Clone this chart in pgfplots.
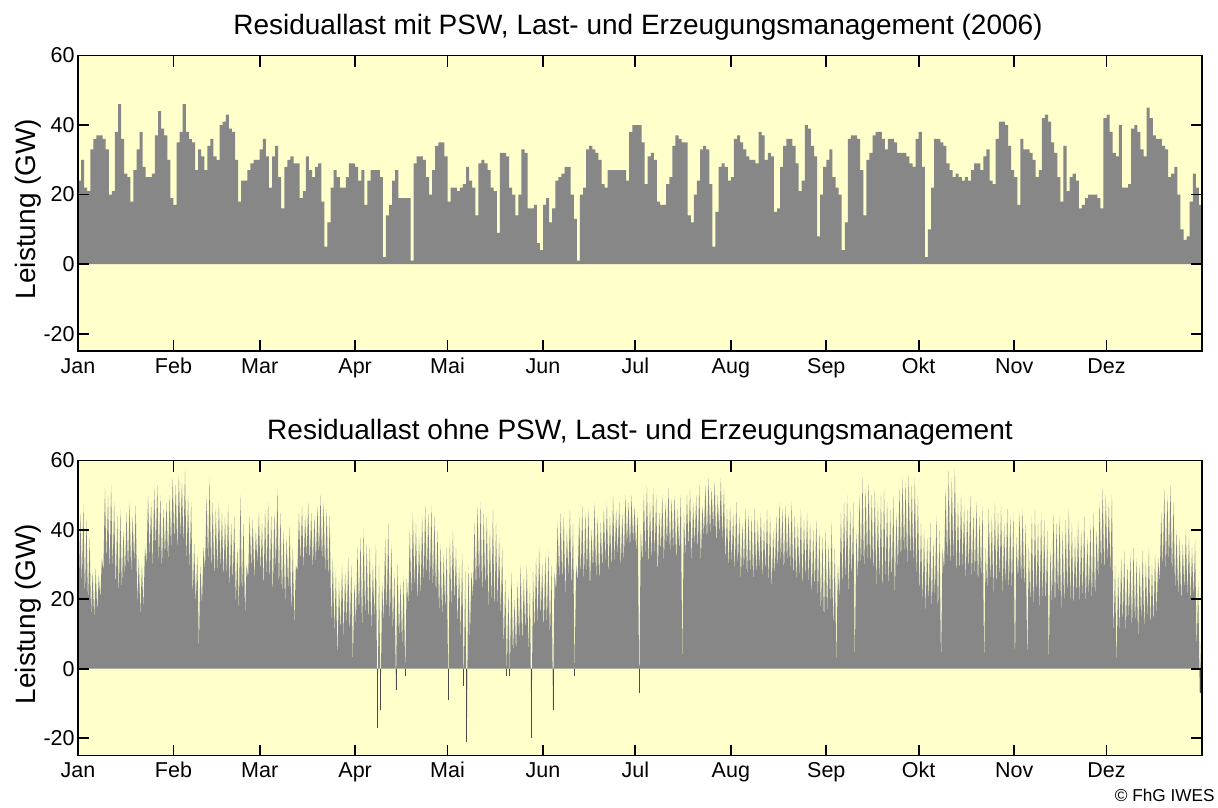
\documentclass[border=0pt]{standalone}
\usepackage{fontspec}
\setmainfont{Liberation Sans}
\usepackage{pgfplots}
\pgfplotsset{compat=1.18}
\usepackage{pgfplotstable}
\definecolor{bgy}{RGB}{255,255,204}
\definecolor{fillg}{RGB}{135,135,135}

% Residuallast mit PSW (daily values, GW)
\pgfplotstableread[row sep=\\]{y\\
24\\30\\22\\21\\33\\36\\37\\37\\36\\33\\
20\\21\\38\\46\\36\\26\\25\\18\\27\\33\\
38\\28\\25\\25\\26\\37\\44\\39\\37\\30\\
19\\17\\35\\38\\46\\38\\36\\35\\27\\33\\
31\\27\\34\\36\\31\\30\\40\\41\\43\\39\\
38\\30\\18\\24\\24\\27\\29\\30\\30\\33\\
36\\31\\22\\31\\34\\25\\16\\28\\30\\31\\
29\\29\\19\\21\\31\\27\\25\\28\\29\\18\\
5\\12\\22\\27\\25\\22\\22\\25\\29\\29\\
28\\24\\27\\17\\24\\27\\27\\27\\25\\2\\
14\\17\\24\\27\\19\\19\\19\\19\\1\\29\\
31\\31\\30\\25\\20\\27\\34\\35\\35\\31\\
18\\22\\22\\21\\22\\23\\28\\24\\22\\14\\
29\\30\\29\\27\\22\\21\\9\\32\\32\\31\\
22\\20\\14\\20\\33\\32\\16\\16\\17\\6\\
4\\17\\19\\12\\16\\24\\25\\26\\28\\28\\
20\\13\\1\\20\\22\\33\\34\\33\\32\\30\\
23\\22\\27\\27\\27\\27\\27\\27\\24\\38\\
40\\40\\40\\35\\23\\31\\32\\30\\18\\17\\
17\\23\\25\\34\\37\\36\\35\\35\\14\\12\\
20\\24\\33\\34\\33\\23\\5\\15\\28\\29\\
28\\24\\25\\36\\37\\35\\33\\31\\30\\30\\
29\\38\\37\\30\\32\\31\\15\\16\\28\\34\\
36\\36\\34\\29\\21\\24\\40\\39\\34\\31\\
8\\20\\28\\30\\33\\25\\22\\20\\4\\12\\
36\\37\\37\\36\\27\\14\\30\\32\\37\\38\\
38\\36\\33\\36\\36\\35\\32\\32\\32\\31\\
29\\28\\36\\38\\28\\2\\10\\22\\36\\36\\
35\\34\\29\\27\\25\\26\\25\\24\\25\\24\\
27\\29\\29\\27\\31\\33\\24\\23\\36\\41\\
41\\40\\34\\27\\25\\17\\36\\33\\33\\32\\
30\\25\\27\\42\\43\\41\\35\\32\\25\\18\\
34\\21\\25\\26\\24\\16\\17\\19\\20\\20\\
20\\19\\16\\42\\43\\38\\32\\31\\40\\22\\
22\\23\\39\\40\\38\\33\\31\\45\\42\\37\\
36\\36\\34\\33\\25\\26\\28\\20\\10\\7\\
8\\18\\26\\22\\17\\17\\
}\toptable

% Residuallast ohne PSW (per day: low, high, GW)
\pgfplotstableread[row sep=\\]{y\\
22\\45\\24\\47\\20\\43\\18\\38\\15\\28\\14\\29\\16\\27\\20\\32\\28\\52\\30\\50\\
27\\53\\28\\48\\22\\44\\20\\46\\22\\40\\26\\45\\28\\48\\27\\44\\30\\47\\18\\32\\
15\\30\\17\\35\\30\\50\\32\\48\\28\\52\\34\\53\\30\\50\\28\\46\\32\\48\\30\\50\\
34\\55\\36\\53\\33\\56\\37\\54\\35\\57\\30\\50\\28\\48\\20\\36\\18\\33\\5\\30\\
18\\35\\28\\50\\30\\55\\27\\48\\25\\46\\27\\48\\28\\45\\25\\44\\26\\47\\22\\42\\
24\\44\\18\\35\\16\\50\\20\\42\\15\\30\\26\\44\\28\\43\\25\\40\\30\\45\\27\\42\\
22\\46\\26\\48\\24\\44\\20\\45\\28\\52\\22\\45\\20\\40\\18\\38\\22\\41\\15\\35\\
12\\30\\28\\45\\30\\47\\28\\44\\32\\48\\30\\45\\28\\44\\30\\47\\32\\50\\30\\48\\
27\\46\\25\\44\\12\\32\\10\\28\\2\\25\\10\\30\\8\\28\\12\\32\\9\\30\\1\\25\\
12\\35\\15\\38\\10\\40\\14\\36\\12\\35\\10\\30\\14\\36\\-17\\30\\-12\\25\\13\\38\\
15\\42\\12\\36\\10\\28\\-6\\30\\8\\25\\6\\27\\-2\\26\\18\\40\\20\\45\\22\\42\\
18\\38\\20\\44\\24\\47\\25\\45\\23\\47\\22\\44\\20\\40\\15\\36\\14\\33\\16\\35\\
-9\\38\\17\\40\\18\\35\\12\\30\\8\\33\\-5\\28\\-21\\30\\8\\28\\20\\42\\22\\47\\
24\\48\\20\\45\\22\\44\\16\\40\\18\\46\\15\\42\\17\\38\\14\\35\\5\\26\\-2\\22\\
-2\\28\\3\\20\\4\\25\\8\\30\\6\\26\\10\\30\\4\\24\\-20\\28\\10\\32\\12\\35\\
14\\30\\10\\33\\12\\34\\8\\30\\-12\\28\\22\\42\\25\\45\\24\\44\\20\\40\\26\\46\\
22\\42\\-2\\30\\25\\44\\26\\47\\24\\45\\27\\46\\22\\40\\28\\48\\25\\44\\24\\42\\
28\\46\\30\\48\\26\\44\\28\\50\\30\\46\\32\\48\\28\\45\\30\\50\\35\\48\\34\\50\\
36\\47\\33\\45\\-7\\40\\30\\50\\32\\53\\28\\48\\30\\52\\32\\50\\26\\45\\33\\50\\
30\\48\\35\\52\\32\\49\\34\\50\\30\\46\\33\\50\\0\\45\\32\\50\\34\\52\\30\\48\\
35\\50\\33\\53\\30\\47\\38\\53\\36\\55\\38\\52\\40\\54\\35\\50\\38\\55\\36\\52\\
30\\46\\28\\47\\30\\45\\27\\48\\29\\44\\25\\42\\28\\46\\25\\45\\27\\44\\24\\46\\
26\\43\\28\\45\\25\\42\\27\\46\\24\\44\\22\\40\\26\\44\\28\\48\\30\\46\\27\\47\\
30\\45\\28\\48\\25\\44\\24\\42\\26\\46\\22\\43\\25\\45\\24\\42\\20\\40\\22\\43\\
20\\40\\15\\38\\12\\40\\15\\36\\18\\42\\10\\35\\0\\30\\20\\45\\22\\48\\24\\50\\
20\\46\\25\\48\\0\\40\\25\\50\\28\\55\\27\\52\\30\\54\\28\\50\\26\\52\\22\\48\\
24\\50\\20\\52\\25\\48\\22\\46\\24\\50\\20\\45\\28\\52\\30\\55\\32\\54\\28\\56\\
30\\53\\29\\55\\25\\50\\20\\42\\18\\40\\15\\38\\18\\42\\16\\37\\20\\44\\15\\40\\
0\\35\\28\\52\\30\\57\\27\\55\\30\\58\\25\\48\\26\\50\\28\\47\\24\\46\\27\\50\\
25\\45\\26\\48\\23\\44\\25\\47\\0\\35\\22\\46\\24\\44\\20\\48\\22\\45\\25\\47\\
20\\42\\23\\46\\21\\44\\22\\45\\0\\38\\25\\45\\24\\46\\22\\42\\0\\36\\18\\44\\
16\\46\\20\\42\\15\\45\\18\\43\\17\\40\\0\\35\\18\\45\\16\\42\\20\\44\\15\\40\\
17\\43\\20\\46\\18\\42\\16\\38\\20\\43\\18\\40\\19\\44\\17\\38\\20\\42\\18\\45\\
19\\40\\25\\48\\28\\52\\26\\50\\30\\48\\27\\50\\8\\30\\0\\28\\10\\32\\12\\34\\
9\\30\\14\\33\\10\\35\\12\\32\\8\\30\\13\\34\\10\\31\\14\\35\\11\\30\\12\\33\\
15\\32\\25\\45\\28\\52\\27\\50\\30\\53\\26\\48\\22\\40\\20\\38\\18\\36\\22\\40\\
20\\38\\18\\35\\20\\37\\5\\25\\-7\\10\\
}\bottable

\pgfplotsset{myax/.style={
  scale only axis, width=562pt,
  xmin=0, xmax=365, ymin=-25, ymax=60,
  axis background/.style={fill=bgy},
  xtick={0,31,59,90,120,151,181,212,243,273,304,334},
  xticklabels={Jan,Feb,Mar,Apr,Mai,Jun,Jul,Aug,Sep,Okt,Nov,Dez},
  ytick={-20,0,20,40,60},
  yticklabels={-20,0,20,40,60},
  tick align=inside, major tick length=5.5pt,
  every tick/.style={black, line width=0.9pt},
  axis line style={line width=0.9pt, black},
  tick label style={font=\fontsize{10.75}{12}\selectfont},
  xticklabel style={text height=7.7pt, text depth=2.3pt},
  yticklabel style={inner xsep=1.5pt},
  /pgf/number format/assume math mode=true,
  axis on top,
}}

\begin{document}
\begin{tikzpicture}[x=1pt,y=1pt]
\useasboundingbox (0,0) rectangle (609,-403.5);
\begin{axis}[myax, height=147.75pt, at={(39pt,-175.5pt)}, anchor=south west]
\addplot[fill=fillg, draw=none, const plot mark left] table[x expr=\coordindex, y=y]{\toptable} \closedcycle;
\end{axis}
\begin{axis}[myax, height=147.5pt, at={(39pt,-377.75pt)}, anchor=south west, unbounded coords=jump]
\addplot[fill=fillg, draw=none, sharp plot] table[x expr=\coordindex*0.5+0.25, y=y]{\bottable} \closedcycle;
% negative dips drawn darker, as in the original
\addplot[black!70, line width=0.45pt] coordinates {
(97.25,0)(97.25,-17)(97.25,nan)
(98.25,0)(98.25,-12)(98.25,nan)
(103.25,0)(103.25,-6)(103.25,nan)
(106.25,0)(106.25,-2)(106.25,nan)
(120.25,0)(120.25,-9)(120.25,nan)
(125.25,0)(125.25,-5)(125.25,nan)
(126.25,0)(126.25,-21)(126.25,nan)
(139.25,0)(139.25,-2)(139.25,nan)
(140.25,0)(140.25,-2)(140.25,nan)
(147.25,0)(147.25,-20)(147.25,nan)
(154.25,0)(154.25,-12)(154.25,nan)
(161.25,0)(161.25,-2)(161.25,nan)
(182.25,0)(182.25,-7)(182.25,nan)
(364.5,0)(364.5,-7)
};
\end{axis}
\node[font=\fontsize{14}{16}\selectfont] at (319,-13.5) {Residuallast mit PSW, Last- und Erzeugungsmanagement (2006)};
\node[font=\fontsize{14}{16}\selectfont] at (320,-216) {Residuallast ohne PSW, Last- und Erzeugungsmanagement};
\node[rotate=90, font=\fontsize{14}{16}\selectfont] at (14,-104.5) {Leistung (GW)};
\node[rotate=90, font=\fontsize{14}{16}\selectfont] at (14,-307) {Leistung (GW)};
\node[font=\fontsize{8.6}{10}\selectfont, anchor=east, inner sep=0pt] at (607.5,-397.5) {© FhG IWES};
\end{tikzpicture}
\end{document}
